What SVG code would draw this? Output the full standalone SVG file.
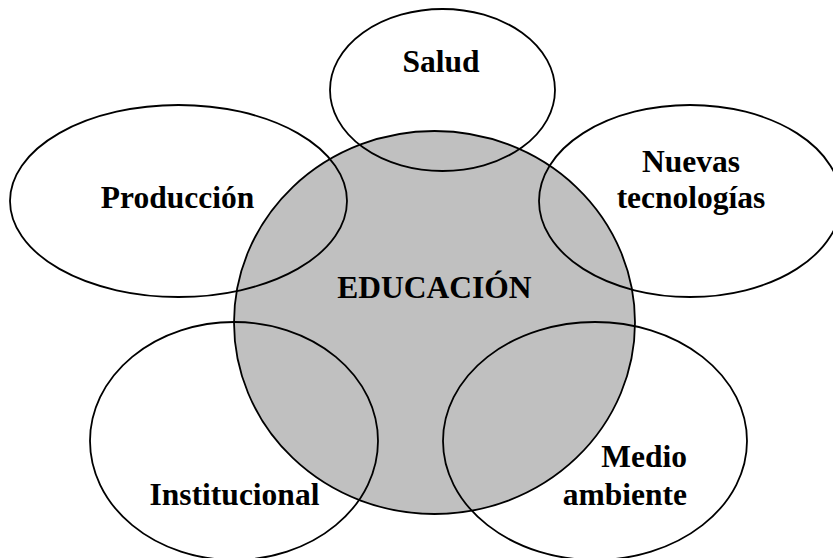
<svg xmlns="http://www.w3.org/2000/svg" width="833" height="558" viewBox="0 0 833 558">
<style>
.bg{fill:#ffffff}
.core{fill:#c0c0c0;stroke:#000;stroke-width:1.8}
.ring{fill:none;stroke:#000;stroke-width:1.8}
.t{font-family:"Liberation Serif","Times New Roman",serif;font-weight:bold;font-size:31.5px;fill:#000}
.m{text-anchor:middle}
.e{text-anchor:end}
</style>
<rect class="bg" x="0" y="0" width="833" height="558"/>
<g id="educacion">
<ellipse class="core" cx="434.5" cy="322.5" rx="200.5" ry="191.5"/>
<text class="t m" x="434.5" y="298">EDUCACIÓN</text>
</g>
<g id="salud">
<ellipse class="ring" cx="442.5" cy="90" rx="112.5" ry="81"/>
<text class="t m" x="441" y="72">Salud</text>
</g>
<g id="produccion">
<ellipse class="ring" cx="178.5" cy="201" rx="168.5" ry="96"/>
<text class="t m" x="177.5" y="208">Producción</text>
</g>
<g id="nuevas-tecnologias">
<ellipse class="ring" cx="690" cy="201" rx="151" ry="96"/>
<text class="t m" x="691" y="172">Nuevas</text>
<text class="t m" x="691" y="208">tecnologías</text>
</g>
<g id="institucional">
<ellipse class="ring" cx="234" cy="441" rx="144" ry="119"/>
<text class="t m" x="234.5" y="505">Institucional</text>
</g>
<g id="medio-ambiente">
<ellipse class="ring" cx="595" cy="441" rx="152" ry="119"/>
<text class="t e" x="687" y="467">Medio</text>
<text class="t e" x="687" y="505">ambiente</text>
</g>
<g id="connectors"/>
</svg>
